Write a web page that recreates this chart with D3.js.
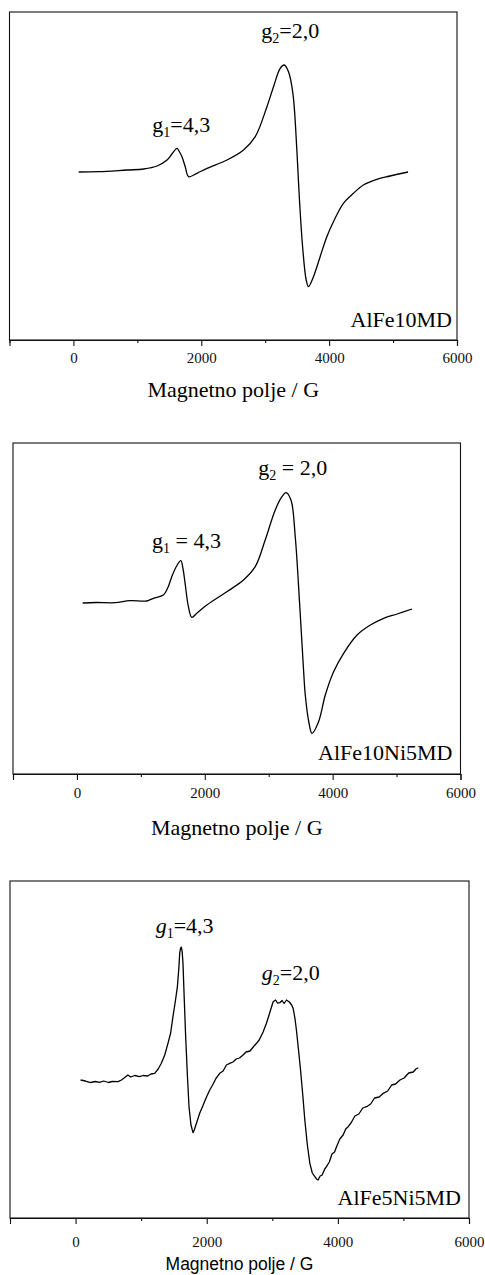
<!DOCTYPE html>
<html><head><meta charset="utf-8">
<script src="https://cdn.jsdelivr.net/npm/d3@7"></script>
<style>html,body{margin:0;padding:0;background:#fff;}svg{display:block;}</style>
</head><body>
<script>
// ---- data ----
const majorTicks = [0, 2000, 4000, 6000];
const minorTicks = [-1000, 1000, 3000, 5000];
const axisTitle = "Magnetno polje / G";

const fe10Field  = [83,400,839,1100,1308,1464,1540,1620,1660,1698,1750,1802,1933,2089,2402,2661,2844,3027,3130,3234,3297,3364,3433,3495,3536,3589,3641,3677,3755,3859,3964,4067,4223,4380,4536,4745,4953,5234];
const fe10Signal = [0,0.3,2,3,6,12,18,23.7,20,15.3,5,-4.7,-1.3,3.7,12,22,35.3,65.3,85.3,103.7,107,100.3,78.7,22,-28,-78,-108,-114.7,-104.7,-84.7,-64.7,-49.7,-31.3,-21.3,-13,-7.3,-4,0];

const fe10ni5Field  = [90,300,600,830,1092,1195,1352,1420,1484,1560,1625,1660,1692,1744,1797,1880,2032,2345,2605,2789,2945,3102,3207,3270,3348,3415,3483,3545,3572,3630,3677,3780,3885,4015,4172,4382,4590,4799,5009,5244];
const fe10ni5Signal = [0,0.5,0.3,2.3,2,4.7,8,15,26.3,37,42.3,34,19.7,-3.7,-14.3,-10,-2,11.3,23,36.3,63,93,106.3,110.3,103,66.3,-0.3,-67,-92,-120,-130.3,-118.7,-92,-68.7,-50.3,-32,-22,-15.3,-11,-6];

const fe5ni5Field  = [76,150,230,300,366,430,500,560,646,700,760,798,840,900,977,1030,1100,1150,1206,1260,1308,1360,1409,1450,1485,1520,1553,1575,1588,1602,1614,1626,1638,1658,1679,1705,1730,1760,1791,1810,1840,1893,1940,1990,2046,2090,2140,2198,2250,2300,2351,2400,2450,2500,2554,2600,2660,2710,2759,2800,2860,2911,2960,3013,3050,3080,3115,3150,3180,3217,3260,3295,3318,3345,3368,3400,3431,3465,3496,3535,3573,3610,3649,3675,3699,3730,3760,3800,3827,3870,3910,3950,3980,4030,4080,4120,4157,4200,4260,4320,4380,4438,4500,4560,4630,4692,4760,4820,4880,4947,5010,5080,5150,5190,5226];
const fe5ni5Signal = [0,-1,-2.5,-1.5,-2.3,-1,-2.5,-1.5,-1.7,0,3,5,3,4.5,3.3,4.5,4,6,6.7,11,16.7,25,36.7,47,63.3,78,93.3,112,126.7,132,132.7,128,116.7,80,43.3,5,-26.7,-45,-52.7,-50,-44,-33.3,-26,-18,-10,-5,1.5,6.7,9,15,16.7,18,21,22,25,28,29,33,36.7,40,48,56.7,67,78.3,80,77,77.3,79.5,76.5,80,78,75,71.7,62,50,30,10,-15,-40,-65,-83.3,-93,-96.7,-99,-100,-96,-95,-89,-86.7,-82,-74,-72,-66.7,-59,-55,-49,-46.7,-43,-36,-34,-28,-26.7,-24,-18,-17,-13.3,-11,-5,-4,0,2,7,8,11,12.3];

// annotations (anchored in data units)
const p1Notes = {g1:[1234,40], g2:[2938,134], name:[5922,-155]};
const p2Notes = {g1:[1175,55], g2:[2836,128], name:[5875,-157]};
const p3Notes = {g1:[1221,147], g2:[2840,100], name:[5878,-125]};

// ---- layout ----
const W = 485, H = 1275;
const serif = "'Liberation Serif','Times New Roman',Times,serif";
const sans = "'Liberation Sans',Arial,Helvetica,sans-serif";

const panels = [
  {field: fe10Field, signal: fe10Signal, yDom:[-168,160], box:{l:9.5,r:457,t:12,b:340},
   notes:p1Notes, g1:"=4,3", g2:"=2,0", name:"AlFe10MD", italic:false, curve:d3.curveCatmullRom.alpha(0.5),
   tickY:23, titleY:57, titleFont:serif, titleSize:22},
  {field: fe10ni5Field, signal: fe10ni5Signal, yDom:[-171,160], box:{l:13,r:460.5,t:443,b:774},
   notes:p2Notes, g1:" = 4,3", g2:" = 2,0", name:"AlFe10Ni5MD", italic:false, curve:d3.curveCatmullRom.alpha(0.5),
   tickY:24, titleY:61, titleFont:serif, titleSize:22},
  {field: fe5ni5Field, signal: fe5ni5Signal, yDom:[-138,199], box:{l:10,r:469,t:881,b:1218},
   notes:p3Notes, g1:"=4,3", g2:"=2,0", name:"AlFe5Ni5MD", italic:true, curve:d3.curveLinear,
   tickY:29, titleY:52, titleFont:sans, titleSize:17.5}
];

const svg = d3.select("body").append("svg").attr("width", W).attr("height", H);

panels.forEach(p => {
  const b = p.box;
  const x = d3.scaleLinear().domain([-1000, 6000]).range([b.l, b.r]);
  const y = d3.scaleLinear().domain(p.yDom).range([b.b, b.t]);
  const g = svg.append("g");

  // frame
  g.append("rect").attr("x", b.l).attr("y", b.t).attr("width", b.r - b.l).attr("height", b.b - b.t)
    .attr("fill", "none").attr("stroke", "#111").attr("stroke-width", 1.1);

  // minor ticks
  const minorAxis = d3.axisBottom(x).tickValues(minorTicks).tickSize(3).tickFormat("");
  const ma = g.append("g").attr("transform", `translate(0,${b.b})`).call(minorAxis);
  ma.select(".domain").remove();
  ma.selectAll("line").attr("stroke", "#111").attr("stroke-width", 1.1);

  // major ticks
  const majorAxis = d3.axisBottom(x).tickValues(majorTicks).tickSize(6).tickPadding(0).tickFormat(d3.format("d"));
  const a = g.append("g").attr("transform", `translate(0,${b.b})`).call(majorAxis);
  a.select(".domain").attr("stroke", "#111").attr("stroke-width", 1.1);
  a.selectAll("line").attr("stroke", "#111").attr("stroke-width", 1.1);
  a.selectAll("text").attr("y", p.tickY).attr("dy", 0).attr("fill", "#111")
    .style("font-family", serif).style("font-size", "15px");

  // curve
  const pts = p.field.map((f, i) => [f, p.signal[i]]);
  const line = d3.line().x(d => x(d[0])).y(d => y(d[1])).curve(p.curve);
  g.append("path").datum(pts).attr("d", line).attr("fill", "none")
    .attr("stroke", "#000").attr("stroke-width", 1.3).attr("stroke-linejoin", "round");

  // g labels
  function gLabel(anchor, sub, rest) {
    const t = g.append("text").attr("x", x(anchor[0])).attr("y", y(anchor[1]))
      .style("font-family", serif).style("font-size", "22px").attr("fill", "#000");
    t.append("tspan").text("g").style("font-style", p.italic ? "italic" : "normal");
    t.append("tspan").text(sub).attr("dy", 5).style("font-size", "14px");
    t.append("tspan").text(rest).attr("dy", -5);
  }
  gLabel(p.notes.g1, "1", p.g1);
  gLabel(p.notes.g2, "2", p.g2);

  g.append("text").attr("x", x(p.notes.name[0])).attr("y", y(p.notes.name[1]))
    .attr("text-anchor", "end").style("font-family", serif).style("font-size", "22px")
    .attr("fill", "#000").text(p.name);

  // axis title
  g.append("text").attr("x", (b.l + b.r) / 2).attr("y", b.b + p.titleY)
    .attr("text-anchor", "middle").style("font-family", p.titleFont)
    .style("font-size", p.titleSize + "px").attr("fill", "#000").text(axisTitle);
});
</script>
</body></html>
